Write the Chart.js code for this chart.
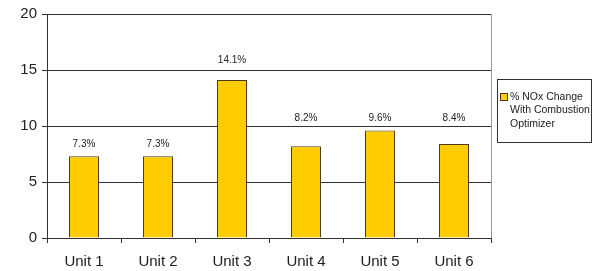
<!DOCTYPE html>
<html><head><meta charset="utf-8">
<script src="https://cdn.jsdelivr.net/npm/chart.js@4/dist/chart.umd.min.js"></script>
<style>html,body{margin:0;padding:0;background:#fff}#wrap{width:600px;height:271px}</style>
</head><body><div id="wrap"><canvas id="c" width="600" height="271"></canvas></div>
<script>
const categories = ["Unit 1","Unit 2","Unit 3","Unit 4","Unit 5","Unit 6"];
const noxChange = [7.3, 7.3, 14.1, 8.2, 9.6, 8.4];
const valueLabels = ["7.3%","7.3%","14.1%","8.2%","9.6%","8.4%"];
const seriesName = "% NOx Change With Combustion Optimizer";
const legendLines = ["% NOx Change","With Combustion","Optimizer"];
const yTicks = [0,5,10,15,20];

const FONT = "'Liberation Sans', Arial, sans-serif";
// label placement (value units where the label centre sits)
const labelLevels = [8.4, 8.4, 15.9, 10.7, 10.7, 10.7];

const labelPlugin = {
  id: 'valLabels',
  afterDatasetsDraw(chart) {
    const ctx = chart.ctx, y = chart.scales.y, meta = chart.getDatasetMeta(0);
    ctx.save();
    ctx.font = "10px " + FONT;
    ctx.fillStyle = "#222";
    ctx.textAlign = "center"; ctx.textBaseline = "middle";
    meta.data.forEach((bar, i) => {
      ctx.fillText(valueLabels[i], bar.x, y.getPixelForValue(labelLevels[i]));
    });
    ctx.restore();
  }
};
const legendPlugin = {
  id: 'boxLegend',
  afterDraw(chart) {
    const ctx = chart.ctx;
    ctx.save();
    ctx.strokeStyle = "#333"; ctx.lineWidth = 1;
    ctx.strokeRect(497.5, 79.5, 94, 63);
    ctx.fillStyle = "#FFCC00"; ctx.fillRect(500.5, 93.5, 7, 7);
    ctx.strokeStyle = "#4a3a1a"; ctx.strokeRect(500.5, 93.5, 7, 7);
    ctx.font = "10.5px " + FONT; ctx.fillStyle = "#222";
    ctx.textBaseline = "middle"; ctx.textAlign = "left";
    legendLines.forEach((t, i) => ctx.fillText(t, 510, 97 + i * 13.5));
    ctx.restore();
  }
};
const borderPlugin = {
  id: 'rightBorder',
  afterDraw(chart) {
    const a = chart.chartArea, ctx = chart.ctx;
    ctx.save(); ctx.strokeStyle = "#999"; ctx.lineWidth = 1;
    ctx.beginPath(); ctx.moveTo(Math.round(a.right) + 0.5, a.top); ctx.lineTo(Math.round(a.right) + 0.5, a.bottom); ctx.stroke();
    ctx.restore();
  }
};

new Chart(document.getElementById('c'), {
  type: 'bar',
  data: {
    labels: categories,
    datasets: [{
      label: seriesName,
      data: noxChange,
      backgroundColor: "#FFCC00",
      borderColor: "#4a3a1a",
      borderWidth: 1,
      categoryPercentage: 0.405,
      barPercentage: 1
    }]
  },
  options: {
    responsive: false, animation: false,
    layout: { padding: { top: 14, right: 109, left: 0, bottom: 0 } },
    plugins: { legend: { display: false }, tooltip: { enabled: false } },
    scales: {
      x: {
        grid: { display: true, drawOnChartArea: false, offset: true, color: "#333", tickLength: 5 },
        border: { color: "#333" },
        ticks: { font: { family: FONT, size: 15 }, color: "#222", padding: 10 },
        afterFit(s) { s.height = 33; }
      },
      y: {
        min: 0, max: 20,
        afterBuildTicks(s) { s.ticks = yTicks.map(v => ({ value: v })); },
        grid: { color: "#333", tickLength: 5 },
        border: { color: "#333" },
        ticks: { font: { family: FONT, size: 15 }, color: "#222", padding: 5 },
        afterFit(s) { s.width = 47; }
      }
    }
  },
  plugins: [labelPlugin, legendPlugin, borderPlugin]
});
</script></body></html>
